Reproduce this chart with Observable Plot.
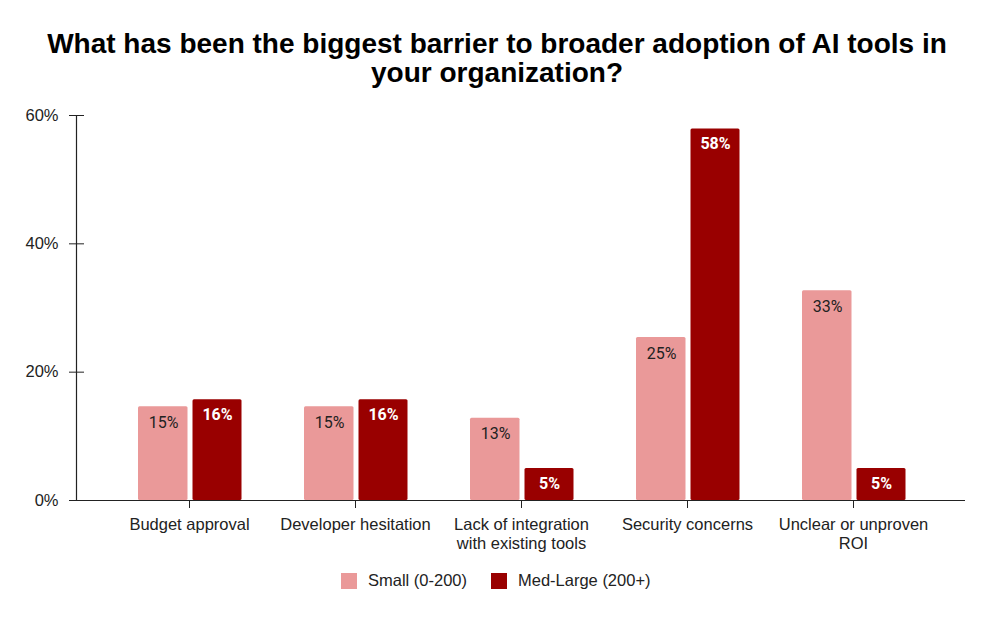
<!DOCTYPE html>
<html>
<head>
<meta charset="utf-8">
<script src="https://cdn.jsdelivr.net/npm/d3@7"></script>
<script src="https://cdn.jsdelivr.net/npm/@observablehq/plot@0.6"></script>
<style>
  html, body { margin: 0; padding: 0; background: #fff; }
  body { width: 1000px; height: 618px; position: relative; overflow: hidden; font-family: "Liberation Sans", Arial, sans-serif; }
  #title { position: absolute; top: 29px; left: 0; width: 994px; text-align: center; font-weight: bold; font-size: 28px; line-height: 29px; color: #000; }
  #chart { position: absolute; top: 90px; left: 0; }
  #legend { position: absolute; top: 570px; left: 0; width: 1000px; height: 20px; font-size: 16.5px; color: #222; }
  .sw { position: absolute; top: 3px; width: 16px; height: 16px; }
  .lt { position: absolute; top: 1px; white-space: nowrap; line-height: 19px; }
</style>
</head>
<body>
<div id="title">What has been the biggest barrier to broader adoption of AI tools in<br>your organization?</div>
<div id="chart"></div>
<div id="legend"></div>
<script>
const categories = ["Budget approval", "Developer hesitation", "Lack of integration\nwith existing tools", "Security concerns", "Unclear or unproven\nROI"];
const seriesNames = ["Small (0-200)", "Med-Large (200+)"];
const smallValues = [14.6, 14.6, 12.8, 25.4, 32.7];
const medLargeValues = [15.7, 15.7, 5.0, 57.9, 5.0];
const yTicks = [0, 20, 40, 60];
const colors = ["#ea9999", "#990000"];

const small = categories.map((c, i) => ({category: c, value: smallValues[i]}));
const medLarge = categories.map((c, i) => ({category: c, value: medLargeValues[i]}));
const fmt = d => Math.round(d) + "%";

const plot = Plot.plot({
  width: 1000,
  height: 470,
  marginLeft: 76,
  marginRight: 35,
  marginTop: 25,
  marginBottom: 60,
  style: {fontFamily: "'Liberation Sans', Arial, sans-serif", color: "#222", background: "transparent"},
  x: {domain: categories, paddingInner: 0, paddingOuter: 0.167},
  y: {domain: [0, 60]},
  marks: [
    Plot.barY(small, {x: "category", y: "value", fill: colors[0], insetLeft: 32, insetRight: 84.5, rx: 1.5}),
    Plot.barY(medLarge, {x: "category", y: "value", fill: colors[1], insetLeft: 86.5, insetRight: 30.5, rx: 1.5}),
    Plot.text(small, {x: "category", y: "value", text: d => fmt(d.value), dx: -26, dy: 16, fill: "#222", fontSize: 16, fontFamily: "Roboto, sans-serif"}),
    Plot.text(medLarge, {x: "category", y: "value", text: d => fmt(d.value), dx: 28, dy: 15, fill: "#fff", fontSize: 16, fontWeight: "bold", fontFamily: "Roboto, sans-serif"}),
    Plot.ruleY([0], {stroke: "#222", strokeWidth: 1.2}),
    Plot.frame({anchor: "left", stroke: "#222", strokeWidth: 1.2}),
    Plot.axisY({ticks: yTicks, tickFormat: d => d + "%", tickSize: 7, tickPadding: 11, fontSize: 16.5, label: null, stroke: "#222"}),
    Plot.axisY({ticks: yTicks, tickFormat: () => "", tickSize: 8, dx: 8, label: null, stroke: "#222"}),
    Plot.axisX({tickSize: 8, tickPadding: 8, fontSize: 16.5, lineHeight: 1.15, label: null, stroke: "#222"})
  ]
});
document.getElementById("chart").appendChild(plot);

const legend = document.getElementById("legend");
const legendPos = [{sw: 341, tx: 368}, {sw: 491, tx: 518}];
seriesNames.forEach((name, i) => {
  const s = document.createElement("div");
  s.className = "sw";
  s.style.left = legendPos[i].sw + "px";
  s.style.background = colors[i];
  legend.appendChild(s);
  const t = document.createElement("div");
  t.className = "lt";
  t.style.left = legendPos[i].tx + "px";
  t.textContent = name;
  legend.appendChild(t);
});
</script>
</body>
</html>
